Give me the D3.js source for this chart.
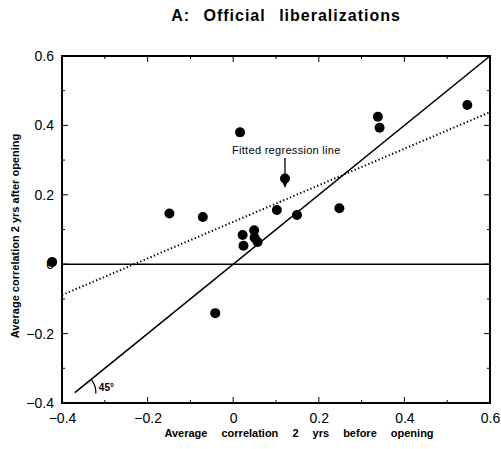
<!DOCTYPE html>
<html>
<head>
<meta charset="utf-8">
<script src="https://cdn.jsdelivr.net/npm/d3@7"></script>
<style>
  html, body { margin: 0; padding: 0; background: #fff; }
  svg { display: block; }
  text { font-family: "Liberation Sans", Arial, sans-serif; fill: #000; }
</style>
</head>
<body>
<svg id="chart" width="501" height="449"></svg>
<script>
// ---- data ----
const titleText = "A: Official liberalizations";
const xLabel = "Average correlation 2 yrs before opening";
const yLabel = "Average correlation 2 yrs after opening";
const xTicks = [-0.4, -0.2, 0, 0.2, 0.4, 0.6];
const yTicks = [-0.4, -0.2, 0, 0.2, 0.4, 0.6];
const xValues = [-0.423, -0.149, -0.071, -0.042, 0.016, 0.022, 0.024, 0.049, 0.050, 0.057, 0.102, 0.121, 0.149, 0.248, 0.338, 0.342, 0.547];
const yValues = [0.006, 0.146, 0.136, -0.141, 0.380, 0.084, 0.053, 0.098, 0.076, 0.064, 0.156, 0.247, 0.142, 0.161, 0.425, 0.393, 0.459];
const regIntercept = 0.122;
const regSlope = 0.527;
const diagStart = -0.37;
const annotationText = "Fitted regression line";
const annotationX = 0.121;
const angleText = "45°";

// ---- layout ----
const svg = d3.select("#chart");
const x = d3.scaleLinear().domain([-0.4, 0.6]).range([62, 490]);
const y = d3.scaleLinear().domain([-0.4, 0.6]).range([403, 56]);
const fmt = d => d === 0 ? "0" : d3.format(".1f")(d);

// title
svg.append("text").attr("x", 286).attr("y", 21).attr("text-anchor", "middle")
  .style("font-size", "16px").style("font-weight", "bold")
  .style("letter-spacing", "1px").style("word-spacing", "8px").text(titleText);

// axes (tick labels) via d3 axes
const xAxis = d3.axisBottom(x).tickValues(xTicks).tickSize(0).tickPadding(10).tickFormat(fmt);
const gx = svg.append("g").attr("transform", `translate(0,${y(-0.4)})`).call(xAxis);
gx.select(".domain").remove();
gx.selectAll("text").style("font-size", "14px").style("font-family", "Liberation Sans, Arial, sans-serif");

const yAxis = d3.axisLeft(y).tickValues(yTicks).tickSize(0).tickPadding(8).tickFormat(fmt);
const gy = svg.append("g").attr("transform", `translate(${x(-0.4)},0)`).call(yAxis);
gy.select(".domain").remove();
gy.selectAll("text").style("font-size", "14px").style("font-family", "Liberation Sans, Arial, sans-serif");

// inward ticks (major 0.2, minor 0.1) on all sides
const minor = d3.range(-0.4, 0.61, 0.1).map(v => +v.toFixed(2));
const tickG = svg.append("g").attr("stroke", "#000").attr("stroke-width", 1);
minor.forEach(v => {
  const isMajor = Math.abs(Math.round(v * 10)) % 2 === 0;
  const L = isMajor ? 6 : 3;
  tickG.append("line").attr("x1", x(-0.4)).attr("x2", x(-0.4) + L).attr("y1", y(v)).attr("y2", y(v));
  tickG.append("line").attr("x1", x(0.6)).attr("x2", x(0.6) - L).attr("y1", y(v)).attr("y2", y(v));
  tickG.append("line").attr("x1", x(v)).attr("x2", x(v)).attr("y1", y(-0.4)).attr("y2", y(-0.4) - L);
  tickG.append("line").attr("x1", x(v)).attr("x2", x(v)).attr("y1", y(0.6)).attr("y2", y(0.6) + L);
});

// frame
svg.append("rect").attr("x", x(-0.4)).attr("y", y(0.6))
  .attr("width", x(0.6) - x(-0.4)).attr("height", y(-0.4) - y(0.6))
  .attr("fill", "none").attr("stroke", "#000").attr("stroke-width", 2);

// zero line
svg.append("line").attr("x1", x(-0.4)).attr("x2", x(0.6)).attr("y1", y(0)).attr("y2", y(0))
  .attr("stroke", "#000").attr("stroke-width", 1.5);

// 45 degree line
svg.append("line").attr("x1", x(diagStart)).attr("y1", y(diagStart)).attr("x2", x(0.6)).attr("y2", y(0.6))
  .attr("stroke", "#000").attr("stroke-width", 1.6);

// regression line (dotted)
svg.append("line").attr("x1", x(-0.4)).attr("y1", y(regIntercept + regSlope * -0.4))
  .attr("x2", x(0.6)).attr("y2", y(regIntercept + regSlope * 0.6))
  .attr("stroke", "#000").attr("stroke-width", 2).attr("stroke-dasharray", "1.3,2.4");

// 45 degree arc marker
const cx0 = x(diagStart), cy0 = y(diagStart);
const ang = Math.atan2(y(diagStart) - y(0.6), x(0.6) - x(diagStart));
const R = 21;
const arcPath = d3.path();
arcPath.moveTo(cx0 + R * Math.cos(ang), cy0 - R * Math.sin(ang));
arcPath.arc(cx0, cy0, R, -ang, 0.05, false);
svg.append("path").attr("d", arcPath.toString()).attr("fill", "none").attr("stroke", "#000").attr("stroke-width", 1.2);
svg.append("text").attr("x", cx0 + 24).attr("y", cy0 - 2).style("font-size", "10px").style("font-weight", "bold").text(angleText);

// points
svg.append("g").selectAll("circle").data(xValues.map((v, i) => [v, yValues[i]])).join("circle")
  .attr("cx", d => x(d[0])).attr("cy", d => y(d[1])).attr("r", 5).attr("fill", "#000");

// annotation
const ax = x(annotationX);
svg.append("text").attr("x", ax - 53).attr("y", 154).style("font-size", "11px").style("letter-spacing", "0.3px").text(annotationText);
svg.append("line").attr("x1", ax).attr("x2", ax).attr("y1", 158).attr("y2", 183).attr("stroke", "#000").attr("stroke-width", 1.3);
svg.append("path").attr("d", `M${ax - 3},181 L${ax + 3},181 L${ax},188 Z`).attr("fill", "#000");

// axis titles
svg.append("text").attr("x", 299).attr("y", 437).attr("text-anchor", "middle")
  .style("font-size", "11px").style("font-weight", "bold").style("word-spacing", "11px").text(xLabel);
svg.append("text").attr("transform", `translate(19,236) rotate(-90)`).attr("text-anchor", "middle")
  .style("font-size", "11px").style("font-weight", "bold").text(yLabel);
</script>
</body>
</html>
